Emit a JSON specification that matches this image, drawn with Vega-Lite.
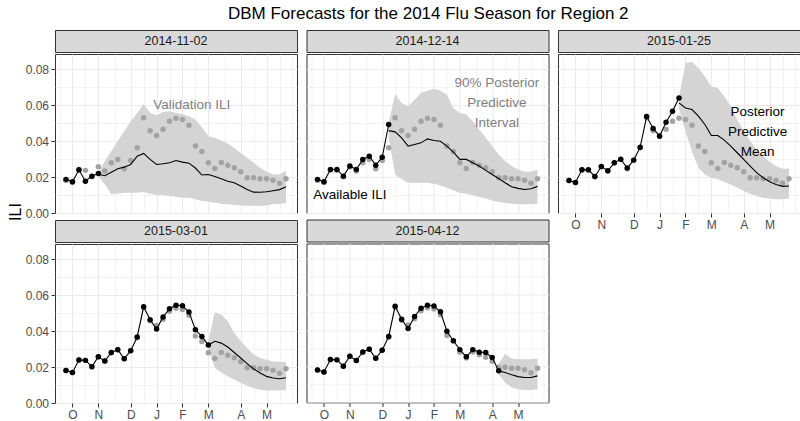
{
  "$schema": "https://vega.github.io/schema/vega-lite/v6.json",
  "padding": {"left": 0, "top": 4, "right": 0, "bottom": 0},
  "title": {"text": "DBM Forecasts for the 2014 Flu Season for Region 2", "font": "Liberation Sans", "fontSize": 17, "fontWeight": "normal", "color": "#000000", "anchor": "middle", "offset": 7, "dx": 28},
  "config": {
    "font": "Liberation Sans",
    "view": {"stroke": "#333333", "strokeWidth": 1},
    "axis": {"domain": false, "gridColor": "#EBEBEB", "labelFont": "Liberation Sans", "labelFontSize": 12, "labelColor": "#4D4D4D", "labelPadding": 2.5, "tickColor": "#333333", "tickSize": 4, "tickWidth": 1, "labelFlush": false, "labelOverlap": false, "labelBound": false}
  },
  "datasets": {
    "panels": [{"panel": "2014-11-02"}, {"panel": "2014-12-14"}, {"panel": "2015-01-25"}, {"panel": "2015-03-01"}, {"panel": "2015-04-12"}],
    "notes": [
      {"panel": "2014-11-02", "date": "2015-02-11", "ili": 0.0602, "label": "Validation ILI", "kind": "validation"},
      {"panel": "2014-12-14", "date": "2015-04-10", "ili": 0.0724, "label": "90% Posterior\nPredictive\nInterval", "kind": "interval"},
      {"panel": "2014-12-14", "date": "2014-11-02", "ili": 0.0098, "label": "Available ILI", "kind": "available"},
      {"panel": "2015-01-25", "date": "2015-04-20", "ili": 0.0562, "label": "Posterior\nPredictive\nMean", "kind": "mean"}
    ],
    "validation": [
      {"date": "2014-09-28", "ili": 0.0181}, {"date": "2014-10-05", "ili": 0.0170}, {"date": "2014-10-12", "ili": 0.0239}, {"date": "2014-10-19", "ili": 0.0237}, {"date": "2014-10-26", "ili": 0.0202},
      {"date": "2014-11-02", "ili": 0.0257}, {"date": "2014-11-09", "ili": 0.0233}, {"date": "2014-11-16", "ili": 0.0279}, {"date": "2014-11-23", "ili": 0.0297}, {"date": "2014-11-30", "ili": 0.0246},
      {"date": "2014-12-07", "ili": 0.0292}, {"date": "2014-12-14", "ili": 0.0363}, {"date": "2014-12-21", "ili": 0.0530}, {"date": "2014-12-28", "ili": 0.0457}, {"date": "2015-01-04", "ili": 0.0431},
      {"date": "2015-01-11", "ili": 0.0466}, {"date": "2015-01-18", "ili": 0.0510}, {"date": "2015-01-25", "ili": 0.0527}, {"date": "2015-02-01", "ili": 0.0520}, {"date": "2015-02-08", "ili": 0.0488},
      {"date": "2015-02-15", "ili": 0.0372}, {"date": "2015-02-22", "ili": 0.0342}, {"date": "2015-03-01", "ili": 0.0279}, {"date": "2015-03-08", "ili": 0.0248}, {"date": "2015-03-15", "ili": 0.0281},
      {"date": "2015-03-22", "ili": 0.0265}, {"date": "2015-03-29", "ili": 0.0252}, {"date": "2015-04-05", "ili": 0.0229}, {"date": "2015-04-12", "ili": 0.0196}, {"date": "2015-04-19", "ili": 0.0196},
      {"date": "2015-04-26", "ili": 0.0190}, {"date": "2015-05-03", "ili": 0.0190}, {"date": "2015-05-10", "ili": 0.0182}, {"date": "2015-05-17", "ili": 0.0166}, {"date": "2015-05-24", "ili": 0.0190}
    ],
    "available": [
      {"panel": "2014-11-02", "date": "2014-09-28", "ili": 0.0187}, {"panel": "2014-11-02", "date": "2014-10-05", "ili": 0.0174}, {"panel": "2014-11-02", "date": "2014-10-12", "ili": 0.0240},
      {"panel": "2014-11-02", "date": "2014-10-19", "ili": 0.0177}, {"panel": "2014-11-02", "date": "2014-10-26", "ili": 0.0205}, {"panel": "2014-11-02", "date": "2014-11-02", "ili": 0.0220},

      {"panel": "2014-12-14", "date": "2014-09-28", "ili": 0.0187}, {"panel": "2014-12-14", "date": "2014-10-05", "ili": 0.0174}, {"panel": "2014-12-14", "date": "2014-10-12", "ili": 0.0242},
      {"panel": "2014-12-14", "date": "2014-10-19", "ili": 0.0242}, {"panel": "2014-12-14", "date": "2014-10-26", "ili": 0.0205}, {"panel": "2014-12-14", "date": "2014-11-02", "ili": 0.0261},
      {"panel": "2014-12-14", "date": "2014-11-09", "ili": 0.0242}, {"panel": "2014-12-14", "date": "2014-11-16", "ili": 0.0298}, {"panel": "2014-12-14", "date": "2014-11-23", "ili": 0.0316},
      {"panel": "2014-12-14", "date": "2014-11-30", "ili": 0.0266}, {"panel": "2014-12-14", "date": "2014-12-07", "ili": 0.0310}, {"panel": "2014-12-14", "date": "2014-12-14", "ili": 0.0492},

      {"panel": "2015-01-25", "date": "2014-09-28", "ili": 0.0181}, {"panel": "2015-01-25", "date": "2014-10-05", "ili": 0.0170}, {"panel": "2015-01-25", "date": "2014-10-12", "ili": 0.0240},
      {"panel": "2015-01-25", "date": "2014-10-19", "ili": 0.0240}, {"panel": "2015-01-25", "date": "2014-10-26", "ili": 0.0203}, {"panel": "2015-01-25", "date": "2014-11-02", "ili": 0.0259},
      {"panel": "2015-01-25", "date": "2014-11-09", "ili": 0.0235}, {"panel": "2015-01-25", "date": "2014-11-16", "ili": 0.0279}, {"panel": "2015-01-25", "date": "2014-11-23", "ili": 0.0299},
      {"panel": "2015-01-25", "date": "2014-11-30", "ili": 0.0250}, {"panel": "2015-01-25", "date": "2014-12-07", "ili": 0.0294}, {"panel": "2015-01-25", "date": "2014-12-14", "ili": 0.0366},
      {"panel": "2015-01-25", "date": "2014-12-21", "ili": 0.0536}, {"panel": "2015-01-25", "date": "2014-12-28", "ili": 0.0470}, {"panel": "2015-01-25", "date": "2015-01-04", "ili": 0.0427},
      {"panel": "2015-01-25", "date": "2015-01-11", "ili": 0.0505}, {"panel": "2015-01-25", "date": "2015-01-18", "ili": 0.0566}, {"panel": "2015-01-25", "date": "2015-01-25", "ili": 0.0640},

      {"panel": "2015-03-01", "date": "2014-09-28", "ili": 0.0181}, {"panel": "2015-03-01", "date": "2014-10-05", "ili": 0.0170}, {"panel": "2015-03-01", "date": "2014-10-12", "ili": 0.0239},
      {"panel": "2015-03-01", "date": "2014-10-19", "ili": 0.0237}, {"panel": "2015-03-01", "date": "2014-10-26", "ili": 0.0202}, {"panel": "2015-03-01", "date": "2014-11-02", "ili": 0.0257},
      {"panel": "2015-03-01", "date": "2014-11-09", "ili": 0.0233}, {"panel": "2015-03-01", "date": "2014-11-16", "ili": 0.0281}, {"panel": "2015-03-01", "date": "2014-11-23", "ili": 0.0296},
      {"panel": "2015-03-01", "date": "2014-11-30", "ili": 0.0246}, {"panel": "2015-03-01", "date": "2014-12-07", "ili": 0.0291}, {"panel": "2015-03-01", "date": "2014-12-14", "ili": 0.0367},
      {"panel": "2015-03-01", "date": "2014-12-21", "ili": 0.0535}, {"panel": "2015-03-01", "date": "2014-12-28", "ili": 0.0463}, {"panel": "2015-03-01", "date": "2015-01-04", "ili": 0.0411},
      {"panel": "2015-03-01", "date": "2015-01-11", "ili": 0.0478}, {"panel": "2015-03-01", "date": "2015-01-18", "ili": 0.0524}, {"panel": "2015-03-01", "date": "2015-01-25", "ili": 0.0544},
      {"panel": "2015-03-01", "date": "2015-02-01", "ili": 0.0541}, {"panel": "2015-03-01", "date": "2015-02-08", "ili": 0.0506}, {"panel": "2015-03-01", "date": "2015-02-15", "ili": 0.0407},
      {"panel": "2015-03-01", "date": "2015-02-22", "ili": 0.0370}, {"panel": "2015-03-01", "date": "2015-03-01", "ili": 0.0322},

      {"panel": "2015-04-12", "date": "2014-09-28", "ili": 0.0181}, {"panel": "2015-04-12", "date": "2014-10-05", "ili": 0.0170}, {"panel": "2015-04-12", "date": "2014-10-12", "ili": 0.0239},
      {"panel": "2015-04-12", "date": "2014-10-19", "ili": 0.0237}, {"panel": "2015-04-12", "date": "2014-10-26", "ili": 0.0202}, {"panel": "2015-04-12", "date": "2014-11-02", "ili": 0.0257},
      {"panel": "2015-04-12", "date": "2014-11-09", "ili": 0.0233}, {"panel": "2015-04-12", "date": "2014-11-16", "ili": 0.0281}, {"panel": "2015-04-12", "date": "2014-11-23", "ili": 0.0296},
      {"panel": "2015-04-12", "date": "2014-11-30", "ili": 0.0246}, {"panel": "2015-04-12", "date": "2014-12-07", "ili": 0.0291}, {"panel": "2015-04-12", "date": "2014-12-14", "ili": 0.0367},
      {"panel": "2015-04-12", "date": "2014-12-21", "ili": 0.0535}, {"panel": "2015-04-12", "date": "2014-12-28", "ili": 0.0463}, {"panel": "2015-04-12", "date": "2015-01-04", "ili": 0.0411},
      {"panel": "2015-04-12", "date": "2015-01-11", "ili": 0.0478}, {"panel": "2015-04-12", "date": "2015-01-18", "ili": 0.0524}, {"panel": "2015-04-12", "date": "2015-01-25", "ili": 0.0541},
      {"panel": "2015-04-12", "date": "2015-02-01", "ili": 0.0537}, {"panel": "2015-04-12", "date": "2015-02-08", "ili": 0.0504}, {"panel": "2015-04-12", "date": "2015-02-15", "ili": 0.0396},
      {"panel": "2015-04-12", "date": "2015-02-22", "ili": 0.0343}, {"panel": "2015-04-12", "date": "2015-03-01", "ili": 0.0294}, {"panel": "2015-04-12", "date": "2015-03-08", "ili": 0.0254},
      {"panel": "2015-04-12", "date": "2015-03-15", "ili": 0.0294}, {"panel": "2015-04-12", "date": "2015-03-22", "ili": 0.0280}, {"panel": "2015-04-12", "date": "2015-03-29", "ili": 0.0278},
      {"panel": "2015-04-12", "date": "2015-04-05", "ili": 0.0250}, {"panel": "2015-04-12", "date": "2015-04-12", "ili": 0.0176}
    ],
    "forecast": [
      {"panel": "2014-11-02", "date": "2014-11-02", "mean": 0.0215, "lo": 0.0205, "hi": 0.0225},
      {"panel": "2014-11-02", "date": "2014-11-09", "mean": 0.0207, "lo": 0.0159, "hi": 0.0288},
      {"panel": "2014-11-02", "date": "2014-11-16", "mean": 0.0227, "lo": 0.0104, "hi": 0.0344},
      {"panel": "2014-11-02", "date": "2014-11-23", "mean": 0.0246, "lo": 0.0109, "hi": 0.0400},
      {"panel": "2014-11-02", "date": "2014-11-30", "mean": 0.0255, "lo": 0.0113, "hi": 0.0455},
      {"panel": "2014-11-02", "date": "2014-12-07", "mean": 0.0270, "lo": 0.0113, "hi": 0.0510},
      {"panel": "2014-11-02", "date": "2014-12-14", "mean": 0.0316, "lo": 0.0113, "hi": 0.0556},
      {"panel": "2014-11-02", "date": "2014-12-21", "mean": 0.0331, "lo": 0.0118, "hi": 0.0606},
      {"panel": "2014-11-02", "date": "2014-12-28", "mean": 0.0298, "lo": 0.0107, "hi": 0.0556},
      {"panel": "2014-11-02", "date": "2015-01-04", "mean": 0.0270, "lo": 0.0100, "hi": 0.0543},
      {"panel": "2014-11-02", "date": "2015-01-11", "mean": 0.0274, "lo": 0.0100, "hi": 0.0562},
      {"panel": "2014-11-02", "date": "2015-01-18", "mean": 0.0279, "lo": 0.0094, "hi": 0.0566},
      {"panel": "2014-11-02", "date": "2015-01-25", "mean": 0.0292, "lo": 0.0090, "hi": 0.0556},
      {"panel": "2014-11-02", "date": "2015-02-01", "mean": 0.0283, "lo": 0.0085, "hi": 0.0551},
      {"panel": "2014-11-02", "date": "2015-02-08", "mean": 0.0277, "lo": 0.0085, "hi": 0.0538},
      {"panel": "2014-11-02", "date": "2015-02-15", "mean": 0.0250, "lo": 0.0076, "hi": 0.0520},
      {"panel": "2014-11-02", "date": "2015-02-22", "mean": 0.0211, "lo": 0.0067, "hi": 0.0477},
      {"panel": "2014-11-02", "date": "2015-03-01", "mean": 0.0214, "lo": 0.0063, "hi": 0.0427},
      {"panel": "2014-11-02", "date": "2015-03-08", "mean": 0.0203, "lo": 0.0057, "hi": 0.0418},
      {"panel": "2014-11-02", "date": "2015-03-15", "mean": 0.0190, "lo": 0.0052, "hi": 0.0403},
      {"panel": "2014-11-02", "date": "2015-03-22", "mean": 0.0177, "lo": 0.0048, "hi": 0.0386},
      {"panel": "2014-11-02", "date": "2015-03-29", "mean": 0.0168, "lo": 0.0044, "hi": 0.0362},
      {"panel": "2014-11-02", "date": "2015-04-05", "mean": 0.0150, "lo": 0.0042, "hi": 0.0335},
      {"panel": "2014-11-02", "date": "2015-04-12", "mean": 0.0131, "lo": 0.0040, "hi": 0.0307},
      {"panel": "2014-11-02", "date": "2015-04-19", "mean": 0.0116, "lo": 0.0040, "hi": 0.0280},
      {"panel": "2014-11-02", "date": "2015-04-26", "mean": 0.0115, "lo": 0.0039, "hi": 0.0251},
      {"panel": "2014-11-02", "date": "2015-05-03", "mean": 0.0118, "lo": 0.0042, "hi": 0.0229},
      {"panel": "2014-11-02", "date": "2015-05-10", "mean": 0.0124, "lo": 0.0048, "hi": 0.0214},
      {"panel": "2014-11-02", "date": "2015-05-17", "mean": 0.0130, "lo": 0.0050, "hi": 0.0215},
      {"panel": "2014-11-02", "date": "2015-05-24", "mean": 0.0146, "lo": 0.0055, "hi": 0.0235},

      {"panel": "2014-12-14", "date": "2014-12-14", "mean": 0.0458, "lo": 0.0420, "hi": 0.0500},
      {"panel": "2014-12-14", "date": "2014-12-21", "mean": 0.0451, "lo": 0.0214, "hi": 0.0662},
      {"panel": "2014-12-14", "date": "2014-12-28", "mean": 0.0418, "lo": 0.0187, "hi": 0.0612},
      {"panel": "2014-12-14", "date": "2015-01-04", "mean": 0.0372, "lo": 0.0168, "hi": 0.0593},
      {"panel": "2014-12-14", "date": "2015-01-11", "mean": 0.0381, "lo": 0.0168, "hi": 0.0630},
      {"panel": "2014-12-14", "date": "2015-01-18", "mean": 0.0390, "lo": 0.0168, "hi": 0.0667},
      {"panel": "2014-12-14", "date": "2015-01-25", "mean": 0.0412, "lo": 0.0168, "hi": 0.0680},
      {"panel": "2014-12-14", "date": "2015-02-01", "mean": 0.0403, "lo": 0.0163, "hi": 0.0691},
      {"panel": "2014-12-14", "date": "2015-02-08", "mean": 0.0399, "lo": 0.0153, "hi": 0.0680},
      {"panel": "2014-12-14", "date": "2015-02-15", "mean": 0.0372, "lo": 0.0140, "hi": 0.0658},
      {"panel": "2014-12-14", "date": "2015-02-22", "mean": 0.0338, "lo": 0.0126, "hi": 0.0584},
      {"panel": "2014-12-14", "date": "2015-03-01", "mean": 0.0298, "lo": 0.0113, "hi": 0.0556},
      {"panel": "2014-12-14", "date": "2015-03-08", "mean": 0.0298, "lo": 0.0107, "hi": 0.0547},
      {"panel": "2014-12-14", "date": "2015-03-15", "mean": 0.0279, "lo": 0.0098, "hi": 0.0510},
      {"panel": "2014-12-14", "date": "2015-03-22", "mean": 0.0261, "lo": 0.0089, "hi": 0.0464},
      {"panel": "2014-12-14", "date": "2015-03-29", "mean": 0.0237, "lo": 0.0080, "hi": 0.0418},
      {"panel": "2014-12-14", "date": "2015-04-05", "mean": 0.0214, "lo": 0.0070, "hi": 0.0372},
      {"panel": "2014-12-14", "date": "2015-04-12", "mean": 0.0192, "lo": 0.0061, "hi": 0.0325},
      {"panel": "2014-12-14", "date": "2015-04-19", "mean": 0.0168, "lo": 0.0055, "hi": 0.0288},
      {"panel": "2014-12-14", "date": "2015-04-26", "mean": 0.0146, "lo": 0.0052, "hi": 0.0261},
      {"panel": "2014-12-14", "date": "2015-05-03", "mean": 0.0137, "lo": 0.0048, "hi": 0.0242},
      {"panel": "2014-12-14", "date": "2015-05-10", "mean": 0.0131, "lo": 0.0048, "hi": 0.0229},
      {"panel": "2014-12-14", "date": "2015-05-17", "mean": 0.0135, "lo": 0.0048, "hi": 0.0229},
      {"panel": "2014-12-14", "date": "2015-05-24", "mean": 0.0148, "lo": 0.0052, "hi": 0.0242},

      {"panel": "2015-01-25", "date": "2015-01-25", "mean": 0.0612, "lo": 0.0580, "hi": 0.0640},
      {"panel": "2015-01-25", "date": "2015-02-01", "mean": 0.0584, "lo": 0.0455, "hi": 0.0834},
      {"panel": "2015-01-25", "date": "2015-02-08", "mean": 0.0575, "lo": 0.0344, "hi": 0.0839},
      {"panel": "2015-01-25", "date": "2015-02-15", "mean": 0.0538, "lo": 0.0251, "hi": 0.0806},
      {"panel": "2015-01-25", "date": "2015-02-22", "mean": 0.0492, "lo": 0.0214, "hi": 0.0760},
      {"panel": "2015-01-25", "date": "2015-03-01", "mean": 0.0431, "lo": 0.0196, "hi": 0.0704},
      {"panel": "2015-01-25", "date": "2015-03-08", "mean": 0.0431, "lo": 0.0187, "hi": 0.0695},
      {"panel": "2015-01-25", "date": "2015-03-15", "mean": 0.0405, "lo": 0.0172, "hi": 0.0649},
      {"panel": "2015-01-25", "date": "2015-03-22", "mean": 0.0372, "lo": 0.0159, "hi": 0.0593},
      {"panel": "2015-01-25", "date": "2015-03-29", "mean": 0.0335, "lo": 0.0140, "hi": 0.0519},
      {"panel": "2015-01-25", "date": "2015-04-05", "mean": 0.0298, "lo": 0.0122, "hi": 0.0455},
      {"panel": "2015-01-25", "date": "2015-04-12", "mean": 0.0261, "lo": 0.0107, "hi": 0.0400},
      {"panel": "2015-01-25", "date": "2015-04-19", "mean": 0.0224, "lo": 0.0094, "hi": 0.0353},
      {"panel": "2015-01-25", "date": "2015-04-26", "mean": 0.0196, "lo": 0.0085, "hi": 0.0316},
      {"panel": "2015-01-25", "date": "2015-05-03", "mean": 0.0174, "lo": 0.0080, "hi": 0.0285},
      {"panel": "2015-01-25", "date": "2015-05-10", "mean": 0.0159, "lo": 0.0076, "hi": 0.0261},
      {"panel": "2015-01-25", "date": "2015-05-17", "mean": 0.0148, "lo": 0.0076, "hi": 0.0246},
      {"panel": "2015-01-25", "date": "2015-05-24", "mean": 0.0150, "lo": 0.0080, "hi": 0.0246},

      {"panel": "2015-03-01", "date": "2015-03-01", "mean": 0.0322, "lo": 0.0300, "hi": 0.0345},
      {"panel": "2015-03-01", "date": "2015-03-08", "mean": 0.0343, "lo": 0.0194, "hi": 0.0504},
      {"panel": "2015-03-01", "date": "2015-03-15", "mean": 0.0333, "lo": 0.0170, "hi": 0.0490},
      {"panel": "2015-03-01", "date": "2015-03-22", "mean": 0.0311, "lo": 0.0148, "hi": 0.0454},
      {"panel": "2015-03-01", "date": "2015-03-29", "mean": 0.0281, "lo": 0.0130, "hi": 0.0389},
      {"panel": "2015-03-01", "date": "2015-04-05", "mean": 0.0250, "lo": 0.0111, "hi": 0.0343},
      {"panel": "2015-03-01", "date": "2015-04-12", "mean": 0.0219, "lo": 0.0096, "hi": 0.0306},
      {"panel": "2015-03-01", "date": "2015-04-19", "mean": 0.0189, "lo": 0.0083, "hi": 0.0269},
      {"panel": "2015-03-01", "date": "2015-04-26", "mean": 0.0167, "lo": 0.0074, "hi": 0.0250},
      {"panel": "2015-03-01", "date": "2015-05-03", "mean": 0.0148, "lo": 0.0069, "hi": 0.0241},
      {"panel": "2015-03-01", "date": "2015-05-10", "mean": 0.0139, "lo": 0.0069, "hi": 0.0231},
      {"panel": "2015-03-01", "date": "2015-05-17", "mean": 0.0135, "lo": 0.0069, "hi": 0.0230},
      {"panel": "2015-03-01", "date": "2015-05-24", "mean": 0.0140, "lo": 0.0072, "hi": 0.0230},

      {"panel": "2015-04-12", "date": "2015-04-12", "mean": 0.0176, "lo": 0.0155, "hi": 0.0215},
      {"panel": "2015-04-12", "date": "2015-04-19", "mean": 0.0167, "lo": 0.0111, "hi": 0.0269},
      {"panel": "2015-04-12", "date": "2015-04-26", "mean": 0.0154, "lo": 0.0083, "hi": 0.0244},
      {"panel": "2015-04-12", "date": "2015-05-03", "mean": 0.0144, "lo": 0.0074, "hi": 0.0241},
      {"panel": "2015-04-12", "date": "2015-05-10", "mean": 0.0139, "lo": 0.0069, "hi": 0.0241},
      {"panel": "2015-04-12", "date": "2015-05-17", "mean": 0.0139, "lo": 0.0069, "hi": 0.0241},
      {"panel": "2015-04-12", "date": "2015-05-24", "mean": 0.0148, "lo": 0.0074, "hi": 0.0244}
    ]
  },
  "spacing": 0,
  "hconcat": [
    {
      "width": 22, "height": 370,
      "view": {"stroke": null},
      "data": {"values": [{"label": "ILI"}]},
      "mark": {"type": "text", "angle": 270, "fontSize": 16, "font": "Liberation Sans", "color": "#000000", "align": "center", "baseline": "middle", "dx": 3, "dy": 5},
      "encoding": {"text": {"field": "label"}}
    },
    {
      "spacing": 7.5,
      "hconcat": [
        {
          "spacing": -1.5,
          "vconcat": [
            {
              "spacing": 0,
              "vconcat": [
                {"width": 242, "height": 22, "view": {"fill": "#D9D9D9", "stroke": "#333333"}, "data": {"name": "panels"}, "transform": [{"filter": {"field": "panel", "equal": "2014-11-02"}}], "mark": {"type": "text", "fontSize": 12.5, "color": "#1A1A1A", "align": "center", "baseline": "middle"}, "encoding": {"text": {"field": "panel"}}},
                {
                  "width": 242, "height": 159,
                  "encoding": {
                    "x": {"field": "date", "type": "temporal", "title": null,
                      "scale": {"type": "utc", "domain": [{"year": 2014, "month": 9, "date": 16, "hours": 2, "minutes": 24, "utc": true}, {"year": 2015, "month": 6, "date": 4, "hours": 21, "minutes": 36, "utc": true}]},
                      "axis": {"values": [{"year":2014,"month":9,"date":21,"utc":true},{"year":2014,"month":10,"date":5,"utc":true},{"year":2014,"month":10,"date":19,"utc":true},{"year":2014,"month":11,"date":2,"utc":true},{"year":2014,"month":11,"date":19,"hours":12,"utc":true},{"year":2014,"month":12,"date":7,"utc":true},{"year":2014,"month":12,"date":21,"utc":true},{"year":2015,"month":1,"date":4,"utc":true},{"year":2015,"month":1,"date":18,"utc":true},{"year":2015,"month":2,"date":1,"utc":true},{"year":2015,"month":2,"date":15,"utc":true},{"year":2015,"month":3,"date":1,"utc":true},{"year":2015,"month":3,"date":18,"hours":12,"utc":true},{"year":2015,"month":4,"date":5,"utc":true},{"year":2015,"month":4,"date":19,"utc":true},{"year":2015,"month":5,"date":3,"utc":true},{"year":2015,"month":5,"date":17,"utc":true},{"year":2015,"month":5,"date":31,"utc":true}],
                        "labels": false, "ticks": false, "tickSize": 0, "labelPadding": 0,
                        "gridWidth": {"condition": {"test": "utcdate(datum.value) <= 7", "value": 1.1}, "value": 0.6}}},
                    "y": {"field": "ili", "type": "quantitative", "title": null,
                      "scale": {"domain": [0, 0.0884], "nice": false, "zero": false},
                      "axis": {"values": [0, 0.01, 0.02, 0.03, 0.04, 0.05, 0.06, 0.07, 0.08],
                        "labelExpr": "round(datum.value*100) % 2 == 0 ? format(datum.value, '.2f') : ''",
                        "tickOpacity": {"condition": {"test": "round(datum.value*100) % 2 == 0", "value": 1}, "value": 0},
                        "gridWidth": {"condition": {"test": "round(datum.value*100) % 2 == 0", "value": 1.1}, "value": 0.6}}}
                  },
                  "layer": [
                    {"data": {"name": "forecast"}, "transform": [{"filter": {"field": "panel", "equal": "2014-11-02"}}], "mark": {"type": "area", "color": "#D4D4D4", "opacity": 1}, "encoding": {"y": {"field": "lo", "type": "quantitative", "title": null}, "y2": {"field": "hi"}}},
                    {"data": {"name": "validation"}, "mark": {"type": "circle", "color": "#A3A3A3", "size": 30, "opacity": 1}},
                    {"data": {"name": "forecast"}, "transform": [{"filter": {"field": "panel", "equal": "2014-11-02"}}], "mark": {"type": "line", "color": "#000000", "strokeWidth": 1.1}, "encoding": {"y": {"field": "mean", "type": "quantitative", "title": null}}},
                    {"data": {"name": "available"}, "transform": [{"filter": {"field": "panel", "equal": "2014-11-02"}}], "mark": {"type": "line", "color": "#000000", "strokeWidth": 1.1, "point": {"filled": true, "color": "#000000", "size": 30, "opacity": 1}}},
                    {"data": {"name": "notes"}, "transform": [{"filter": {"field": "panel", "equal": "2014-11-02"}}], "mark": {"type": "text", "fontSize": 13.5, "lineBreak": "\n", "lineHeight": 20, "align": "center", "baseline": "middle"}, "encoding": {"text": {"field": "label"}, "color": {"field": "kind", "type": "nominal", "scale": {"domain": ["validation", "interval", "available", "mean"], "range": ["#7F7F7F", "#7F7F7F", "#000000", "#000000"]}, "legend": null}}}
                  ]
                }
              ]
            },
            {
              "spacing": 0,
              "vconcat": [
                {"width": 242, "height": 22, "view": {"fill": "#D9D9D9", "stroke": "#333333"}, "data": {"name": "panels"}, "transform": [{"filter": {"field": "panel", "equal": "2015-03-01"}}], "mark": {"type": "text", "fontSize": 12.5, "color": "#1A1A1A", "align": "center", "baseline": "middle"}, "encoding": {"text": {"field": "panel"}}},
                {
                  "width": 242, "height": 159,
                  "encoding": {
                    "x": {"field": "date", "type": "temporal", "title": null,
                      "scale": {"type": "utc", "domain": [{"year": 2014, "month": 9, "date": 16, "hours": 2, "minutes": 24, "utc": true}, {"year": 2015, "month": 6, "date": 4, "hours": 21, "minutes": 36, "utc": true}]},
                      "axis": {"values": [{"year":2014,"month":9,"date":21,"utc":true},{"year":2014,"month":10,"date":5,"utc":true},{"year":2014,"month":10,"date":19,"utc":true},{"year":2014,"month":11,"date":2,"utc":true},{"year":2014,"month":11,"date":19,"hours":12,"utc":true},{"year":2014,"month":12,"date":7,"utc":true},{"year":2014,"month":12,"date":21,"utc":true},{"year":2015,"month":1,"date":4,"utc":true},{"year":2015,"month":1,"date":18,"utc":true},{"year":2015,"month":2,"date":1,"utc":true},{"year":2015,"month":2,"date":15,"utc":true},{"year":2015,"month":3,"date":1,"utc":true},{"year":2015,"month":3,"date":18,"hours":12,"utc":true},{"year":2015,"month":4,"date":5,"utc":true},{"year":2015,"month":4,"date":19,"utc":true},{"year":2015,"month":5,"date":3,"utc":true},{"year":2015,"month":5,"date":17,"utc":true},{"year":2015,"month":5,"date":31,"utc":true}],
                        "labelExpr": "utcdate(datum.value) <= 7 ? substring(utcFormat(datum.value, '%b'), 0, 1) : ''",
                        "tickOpacity": {"condition": {"test": "utcdate(datum.value) <= 7", "value": 1}, "value": 0},
                        "gridWidth": {"condition": {"test": "utcdate(datum.value) <= 7", "value": 1.1}, "value": 0.6}}},
                    "y": {"field": "ili", "type": "quantitative", "title": null,
                      "scale": {"domain": [0, 0.0884], "nice": false, "zero": false},
                      "axis": {"values": [0, 0.01, 0.02, 0.03, 0.04, 0.05, 0.06, 0.07, 0.08],
                        "labelExpr": "round(datum.value*100) % 2 == 0 ? format(datum.value, '.2f') : ''",
                        "tickOpacity": {"condition": {"test": "round(datum.value*100) % 2 == 0", "value": 1}, "value": 0},
                        "gridWidth": {"condition": {"test": "round(datum.value*100) % 2 == 0", "value": 1.1}, "value": 0.6}}}
                  },
                  "layer": [
                    {"data": {"name": "forecast"}, "transform": [{"filter": {"field": "panel", "equal": "2015-03-01"}}], "mark": {"type": "area", "color": "#D4D4D4", "opacity": 1}, "encoding": {"y": {"field": "lo", "type": "quantitative", "title": null}, "y2": {"field": "hi"}}},
                    {"data": {"name": "validation"}, "mark": {"type": "circle", "color": "#A3A3A3", "size": 30, "opacity": 1}},
                    {"data": {"name": "forecast"}, "transform": [{"filter": {"field": "panel", "equal": "2015-03-01"}}], "mark": {"type": "line", "color": "#000000", "strokeWidth": 1.1}, "encoding": {"y": {"field": "mean", "type": "quantitative", "title": null}}},
                    {"data": {"name": "available"}, "transform": [{"filter": {"field": "panel", "equal": "2015-03-01"}}], "mark": {"type": "line", "color": "#000000", "strokeWidth": 1.1, "point": {"filled": true, "color": "#000000", "size": 30, "opacity": 1}}}
                  ]
                }
              ]
            }
          ]
        },
        {
          "spacing": 4.5,
          "vconcat": [
            {
              "spacing": 0,
              "vconcat": [
                {"width": 242, "height": 22, "view": {"fill": "#D9D9D9", "stroke": "#333333"}, "data": {"name": "panels"}, "transform": [{"filter": {"field": "panel", "equal": "2014-12-14"}}], "mark": {"type": "text", "fontSize": 12.5, "color": "#1A1A1A", "align": "center", "baseline": "middle"}, "encoding": {"text": {"field": "panel"}}},
                {
                  "width": 242, "height": 159,
                  "encoding": {
                    "x": {"field": "date", "type": "temporal", "title": null,
                      "scale": {"type": "utc", "domain": [{"year": 2014, "month": 9, "date": 16, "hours": 2, "minutes": 24, "utc": true}, {"year": 2015, "month": 6, "date": 4, "hours": 21, "minutes": 36, "utc": true}]},
                      "axis": {"values": [{"year":2014,"month":9,"date":21,"utc":true},{"year":2014,"month":10,"date":5,"utc":true},{"year":2014,"month":10,"date":19,"utc":true},{"year":2014,"month":11,"date":2,"utc":true},{"year":2014,"month":11,"date":19,"hours":12,"utc":true},{"year":2014,"month":12,"date":7,"utc":true},{"year":2014,"month":12,"date":21,"utc":true},{"year":2015,"month":1,"date":4,"utc":true},{"year":2015,"month":1,"date":18,"utc":true},{"year":2015,"month":2,"date":1,"utc":true},{"year":2015,"month":2,"date":15,"utc":true},{"year":2015,"month":3,"date":1,"utc":true},{"year":2015,"month":3,"date":18,"hours":12,"utc":true},{"year":2015,"month":4,"date":5,"utc":true},{"year":2015,"month":4,"date":19,"utc":true},{"year":2015,"month":5,"date":3,"utc":true},{"year":2015,"month":5,"date":17,"utc":true},{"year":2015,"month":5,"date":31,"utc":true}],
                        "labels": false, "ticks": false, "tickSize": 0, "labelPadding": 0,
                        "gridWidth": {"condition": {"test": "utcdate(datum.value) <= 7", "value": 1.1}, "value": 0.6}}},
                    "y": {"field": "ili", "type": "quantitative", "title": null,
                      "scale": {"domain": [0, 0.0884], "nice": false, "zero": false},
                      "axis": {"values": [0, 0.01, 0.02, 0.03, 0.04, 0.05, 0.06, 0.07, 0.08], "labels": false, "ticks": false, "tickSize": 0, "labelPadding": 0,
                        "gridWidth": {"condition": {"test": "round(datum.value*100) % 2 == 0", "value": 1.1}, "value": 0.6}}}
                  },
                  "layer": [
                    {"data": {"name": "forecast"}, "transform": [{"filter": {"field": "panel", "equal": "2014-12-14"}}], "mark": {"type": "area", "color": "#D4D4D4", "opacity": 1}, "encoding": {"y": {"field": "lo", "type": "quantitative", "title": null}, "y2": {"field": "hi"}}},
                    {"data": {"name": "validation"}, "mark": {"type": "circle", "color": "#A3A3A3", "size": 30, "opacity": 1}},
                    {"data": {"name": "forecast"}, "transform": [{"filter": {"field": "panel", "equal": "2014-12-14"}}], "mark": {"type": "line", "color": "#000000", "strokeWidth": 1.1}, "encoding": {"y": {"field": "mean", "type": "quantitative", "title": null}}},
                    {"data": {"name": "available"}, "transform": [{"filter": {"field": "panel", "equal": "2014-12-14"}}], "mark": {"type": "line", "color": "#000000", "strokeWidth": 1.1, "point": {"filled": true, "color": "#000000", "size": 30, "opacity": 1}}},
                    {"data": {"name": "notes"}, "transform": [{"filter": {"field": "panel", "equal": "2014-12-14"}}], "mark": {"type": "text", "fontSize": 13.5, "lineBreak": "\n", "lineHeight": 20, "align": "center", "baseline": "middle"}, "encoding": {"text": {"field": "label"}, "color": {"field": "kind", "type": "nominal", "scale": {"domain": ["validation", "interval", "available", "mean"], "range": ["#7F7F7F", "#7F7F7F", "#000000", "#000000"]}, "legend": null}}}
                  ]
                }
              ]
            },
            {
              "spacing": 0,
              "vconcat": [
                {"width": 242, "height": 22, "view": {"fill": "#D9D9D9", "stroke": "#333333"}, "data": {"name": "panels"}, "transform": [{"filter": {"field": "panel", "equal": "2015-04-12"}}], "mark": {"type": "text", "fontSize": 12.5, "color": "#1A1A1A", "align": "center", "baseline": "middle"}, "encoding": {"text": {"field": "panel"}}},
                {
                  "width": 242, "height": 159,
                  "encoding": {
                    "x": {"field": "date", "type": "temporal", "title": null,
                      "scale": {"type": "utc", "domain": [{"year": 2014, "month": 9, "date": 16, "hours": 2, "minutes": 24, "utc": true}, {"year": 2015, "month": 6, "date": 4, "hours": 21, "minutes": 36, "utc": true}]},
                      "axis": {"values": [{"year":2014,"month":9,"date":21,"utc":true},{"year":2014,"month":10,"date":5,"utc":true},{"year":2014,"month":10,"date":19,"utc":true},{"year":2014,"month":11,"date":2,"utc":true},{"year":2014,"month":11,"date":19,"hours":12,"utc":true},{"year":2014,"month":12,"date":7,"utc":true},{"year":2014,"month":12,"date":21,"utc":true},{"year":2015,"month":1,"date":4,"utc":true},{"year":2015,"month":1,"date":18,"utc":true},{"year":2015,"month":2,"date":1,"utc":true},{"year":2015,"month":2,"date":15,"utc":true},{"year":2015,"month":3,"date":1,"utc":true},{"year":2015,"month":3,"date":18,"hours":12,"utc":true},{"year":2015,"month":4,"date":5,"utc":true},{"year":2015,"month":4,"date":19,"utc":true},{"year":2015,"month":5,"date":3,"utc":true},{"year":2015,"month":5,"date":17,"utc":true},{"year":2015,"month":5,"date":31,"utc":true}],
                        "labelExpr": "utcdate(datum.value) <= 7 ? substring(utcFormat(datum.value, '%b'), 0, 1) : ''",
                        "tickOpacity": {"condition": {"test": "utcdate(datum.value) <= 7", "value": 1}, "value": 0},
                        "gridWidth": {"condition": {"test": "utcdate(datum.value) <= 7", "value": 1.1}, "value": 0.6}}},
                    "y": {"field": "ili", "type": "quantitative", "title": null,
                      "scale": {"domain": [0, 0.0884], "nice": false, "zero": false},
                      "axis": {"values": [0, 0.01, 0.02, 0.03, 0.04, 0.05, 0.06, 0.07, 0.08], "labels": false, "ticks": false, "tickSize": 0, "labelPadding": 0,
                        "gridWidth": {"condition": {"test": "round(datum.value*100) % 2 == 0", "value": 1.1}, "value": 0.6}}}
                  },
                  "layer": [
                    {"data": {"name": "forecast"}, "transform": [{"filter": {"field": "panel", "equal": "2015-04-12"}}], "mark": {"type": "area", "color": "#D4D4D4", "opacity": 1}, "encoding": {"y": {"field": "lo", "type": "quantitative", "title": null}, "y2": {"field": "hi"}}},
                    {"data": {"name": "validation"}, "mark": {"type": "circle", "color": "#A3A3A3", "size": 30, "opacity": 1}},
                    {"data": {"name": "forecast"}, "transform": [{"filter": {"field": "panel", "equal": "2015-04-12"}}], "mark": {"type": "line", "color": "#000000", "strokeWidth": 1.1}, "encoding": {"y": {"field": "mean", "type": "quantitative", "title": null}}},
                    {"data": {"name": "available"}, "transform": [{"filter": {"field": "panel", "equal": "2015-04-12"}}], "mark": {"type": "line", "color": "#000000", "strokeWidth": 1.1, "point": {"filled": true, "color": "#000000", "size": 30, "opacity": 1}}}
                  ]
                }
              ]
            }
          ]
        },
        {
          "spacing": 0,
          "vconcat": [
            {"width": 242, "height": 22, "view": {"fill": "#D9D9D9", "stroke": "#333333"}, "data": {"name": "panels"}, "transform": [{"filter": {"field": "panel", "equal": "2015-01-25"}}], "mark": {"type": "text", "fontSize": 12.5, "color": "#1A1A1A", "align": "center", "baseline": "middle"}, "encoding": {"text": {"field": "panel"}}},
            {
              "width": 242, "height": 159,
              "encoding": {
                "x": {"field": "date", "type": "temporal", "title": null,
                  "scale": {"type": "utc", "domain": [{"year": 2014, "month": 9, "date": 16, "hours": 2, "minutes": 24, "utc": true}, {"year": 2015, "month": 6, "date": 4, "hours": 21, "minutes": 36, "utc": true}]},
                  "axis": {"values": [{"year":2014,"month":9,"date":21,"utc":true},{"year":2014,"month":10,"date":5,"utc":true},{"year":2014,"month":10,"date":19,"utc":true},{"year":2014,"month":11,"date":2,"utc":true},{"year":2014,"month":11,"date":19,"hours":12,"utc":true},{"year":2014,"month":12,"date":7,"utc":true},{"year":2014,"month":12,"date":21,"utc":true},{"year":2015,"month":1,"date":4,"utc":true},{"year":2015,"month":1,"date":18,"utc":true},{"year":2015,"month":2,"date":1,"utc":true},{"year":2015,"month":2,"date":15,"utc":true},{"year":2015,"month":3,"date":1,"utc":true},{"year":2015,"month":3,"date":18,"hours":12,"utc":true},{"year":2015,"month":4,"date":5,"utc":true},{"year":2015,"month":4,"date":19,"utc":true},{"year":2015,"month":5,"date":3,"utc":true},{"year":2015,"month":5,"date":17,"utc":true},{"year":2015,"month":5,"date":31,"utc":true}],
                    "labelExpr": "utcdate(datum.value) <= 7 ? substring(utcFormat(datum.value, '%b'), 0, 1) : ''",
                    "tickOpacity": {"condition": {"test": "utcdate(datum.value) <= 7", "value": 1}, "value": 0},
                    "gridWidth": {"condition": {"test": "utcdate(datum.value) <= 7", "value": 1.1}, "value": 0.6}}},
                "y": {"field": "ili", "type": "quantitative", "title": null,
                  "scale": {"domain": [0, 0.0884], "nice": false, "zero": false},
                  "axis": {"values": [0, 0.01, 0.02, 0.03, 0.04, 0.05, 0.06, 0.07, 0.08], "labels": false, "ticks": false, "tickSize": 0, "labelPadding": 0,
                    "gridWidth": {"condition": {"test": "round(datum.value*100) % 2 == 0", "value": 1.1}, "value": 0.6}}}
              },
              "layer": [
                {"data": {"name": "forecast"}, "transform": [{"filter": {"field": "panel", "equal": "2015-01-25"}}], "mark": {"type": "area", "color": "#D4D4D4", "opacity": 1}, "encoding": {"y": {"field": "lo", "type": "quantitative", "title": null}, "y2": {"field": "hi"}}},
                {"data": {"name": "validation"}, "mark": {"type": "circle", "color": "#A3A3A3", "size": 30, "opacity": 1}},
                {"data": {"name": "forecast"}, "transform": [{"filter": {"field": "panel", "equal": "2015-01-25"}}], "mark": {"type": "line", "color": "#000000", "strokeWidth": 1.1}, "encoding": {"y": {"field": "mean", "type": "quantitative", "title": null}}},
                {"data": {"name": "available"}, "transform": [{"filter": {"field": "panel", "equal": "2015-01-25"}}], "mark": {"type": "line", "color": "#000000", "strokeWidth": 1.1, "point": {"filled": true, "color": "#000000", "size": 30, "opacity": 1}}},
                {"data": {"name": "notes"}, "transform": [{"filter": {"field": "panel", "equal": "2015-01-25"}}], "mark": {"type": "text", "fontSize": 13.5, "lineBreak": "\n", "lineHeight": 20, "align": "center", "baseline": "middle"}, "encoding": {"text": {"field": "label"}, "color": {"field": "kind", "type": "nominal", "scale": {"domain": ["validation", "interval", "available", "mean"], "range": ["#7F7F7F", "#7F7F7F", "#000000", "#000000"]}, "legend": null}}}
              ]
            }
          ]
        }
      ]
    }
  ]
}
